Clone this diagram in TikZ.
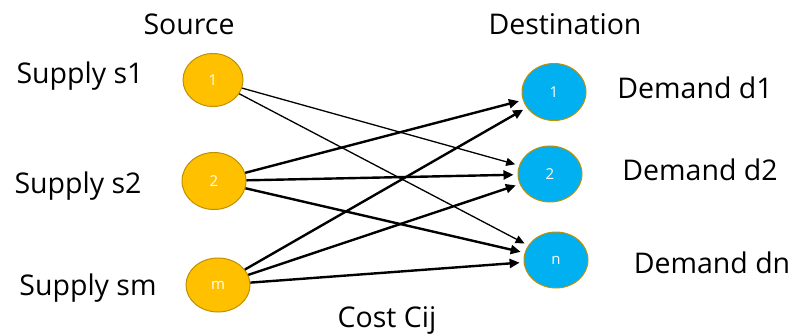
\documentclass[tikz,border=0pt]{standalone}
\usepackage{fontspec}
\setmainfont{Open Sans}
\usetikzlibrary{shapes.geometric,arrows.meta}
\definecolor{srcfill}{HTML}{FFC000}
\definecolor{dstfill}{HTML}{00B0F0}
\definecolor{rim}{HTML}{BF9000}
\tikzset{
  src/.style={ellipse, draw=rim, line width=1pt, fill=srcfill, text=white, font=\fontsize{15}{18}\selectfont, minimum width=60pt, minimum height=53pt, inner sep=0pt},
  dst/.style={ellipse, draw=rim, line width=1pt, fill=dstfill, text=white, font=\fontsize{15}{18}\selectfont, minimum width=64pt, minimum height=57pt, inner sep=0pt},
  lbl/.style={font=\fontsize{28.5}{33}\selectfont},
  thin arr/.style={-{Triangle[length=9pt,width=8pt]}, line width=1.3pt, shorten >=4pt},
  thick arr/.style={-{Triangle[length=10pt,width=9pt]}, line width=2.4pt, shorten >=4pt}
}
\begin{document}
\begin{tikzpicture}[x=1pt, y=-1pt]
  \useasboundingbox (0,0) rectangle (792,334);
  % sources and destinations
  \node[src](s1) at (213,80) {1};
  \node[src, minimum width=64pt, minimum height=57pt](s2) at (214,181) {2};
  \node[src, minimum width=64pt, minimum height=54pt](sm) at (218,285) {m};
  \node[dst](d1) at (554,92) {1};
  \node[dst, minimum height=56pt](d2) at (550,174) {2};
  \node[dst, minimum height=56pt](dn) at (556,260) {n};
  % texts
  \node[lbl](src) at (189,24) {Source};
  \node[lbl](dst) at (565,24) {Destination};
  \node[lbl](sup1) at (80,76) {Supply s1};
  \node[lbl](sup2) at (78,186) {Supply s2};
  \node[lbl](supm) at (88,288) {Supply sm};
  \node[lbl](dem1) at (695,88) {Demand d1};
  \node[lbl](dem2) at (700,170) {Demand d2};
  \node[lbl](demn) at (712,263) {Demand dn};
  \node[lbl](cost) at (387,320) {Cost Cij};
  % links
  \foreach \a/\b in {s1/d2,s1/dn}
    \draw[thin arr](\a)--(\b);
  \foreach \a/\b in {s2/d1,s2/d2,s2/dn,sm/d1,sm/d2,sm/dn}
    \draw[thick arr](\a)--(\b);
\end{tikzpicture}
\end{document}
